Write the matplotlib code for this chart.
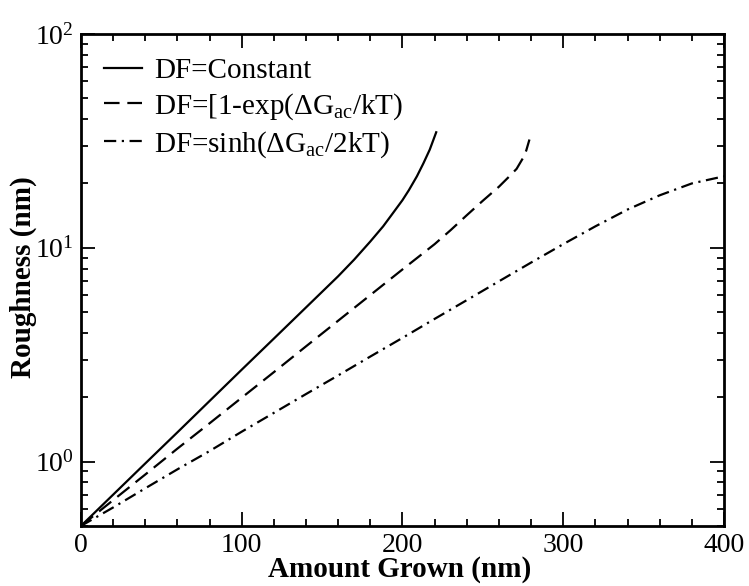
import numpy as np
import matplotlib
matplotlib.use('Agg')
import matplotlib.pyplot as plt
from matplotlib.ticker import LogLocator, MultipleLocator, NullFormatter

plt.rcParams['font.family'] = ['Liberation Serif', 'DejaVu Serif']
plt.rcParams['mathtext.fontset'] = 'custom'
plt.rcParams['mathtext.rm'] = 'Liberation Serif'
plt.rcParams['mathtext.it'] = 'Liberation Serif:italic'
plt.rcParams['mathtext.bf'] = 'Liberation Serif:bold'
plt.rcParams['mathtext.default'] = 'regular'

# values (roughness in nm vs amount grown in nm)
x_const = [0, 20, 40, 60, 80, 100, 120, 140, 160, 170, 180, 188, 194, 200, 204, 209, 213, 217, 221]
y_const = [0.50, 0.70, 0.98, 1.37, 1.92, 2.69, 3.76, 5.26, 7.36, 8.81, 10.7, 12.6, 14.5, 16.7, 18.6,
           21.6, 24.8, 28.8, 34.7]

x_exp = [0, 20, 40, 60, 80, 100, 120, 140, 160, 180, 200, 220, 230, 240, 250, 260, 266, 271, 275, 277, 279]
y_exp = [0.50, 0.66, 0.87, 1.15, 1.51, 1.99, 2.62, 3.46, 4.56, 6.01, 7.92, 10.4, 12.1, 14.2, 16.6,
         19.3, 21.4, 23.4, 26.3, 28.5, 32.1]

x_sinh = [0, 20, 40, 60, 80, 100, 120, 140, 160, 180, 200, 220, 240, 260, 280, 300, 320, 340, 360, 380, 400]
y_sinh = [0.50, 0.61, 0.75, 0.92, 1.12, 1.38, 1.69, 2.07, 2.53, 3.10, 3.79, 4.65, 5.69, 6.97, 8.53,
          10.4, 12.6, 15.1, 17.6, 20.0, 21.6]

labels = ['DF=Constant',
          'DF=[1-exp(ΔG$_{ac}$/kT)',
          'DF=sinh(ΔG$_{ac}$/2kT)']

fig = plt.figure(figsize=(7.49, 5.86), dpi=100)
ax = fig.add_axes([0.108, 0.1024, 0.8586, 0.8396])

ax.plot(x_const, y_const, color='black', lw=1.6, label=labels[0])
ax.plot(x_exp, y_exp, color='black', lw=1.6, linestyle=(0, (7, 3.5)), label=labels[1])
ax.plot(x_sinh, y_sinh, color='black', lw=1.6, linestyle=(0, (5.5, 2.5, 1, 2.5)), label=labels[2])

ax.set_yscale('log')
ax.set_xlim(0, 400)
ax.set_ylim(0.5, 100)

ax.xaxis.set_major_locator(MultipleLocator(100))
ax.xaxis.set_minor_locator(MultipleLocator(20))
ax.yaxis.set_major_locator(LogLocator(base=10))
ax.yaxis.set_minor_locator(LogLocator(base=10, subs=np.arange(2, 10)))
ax.yaxis.set_minor_formatter(NullFormatter())

ax.tick_params(which='both', direction='in', top=True, right=True, labelsize=20, pad=5)
ax.tick_params(which='major', length=10, width=1.3)
ax.tick_params(which='minor', length=5, width=1.3)
for s in ax.spines.values():
    s.set_linewidth(2)

ax.set_xlabel('Amount Grown (nm)', fontsize=21, fontweight='bold')
ax.set_ylabel('Roughness (nm)', fontsize=21, fontweight='bold')
ax.xaxis.set_label_coords(0.496, -0.062)
ax.yaxis.set_label_coords(-0.068, 0.505)

ax.legend(loc='upper left', frameon=False, fontsize=21, handlelength=1.3,
          labelspacing=0.25, borderaxespad=0.4, handletextpad=0.4)

fig.savefig('out.png', dpi=100)
